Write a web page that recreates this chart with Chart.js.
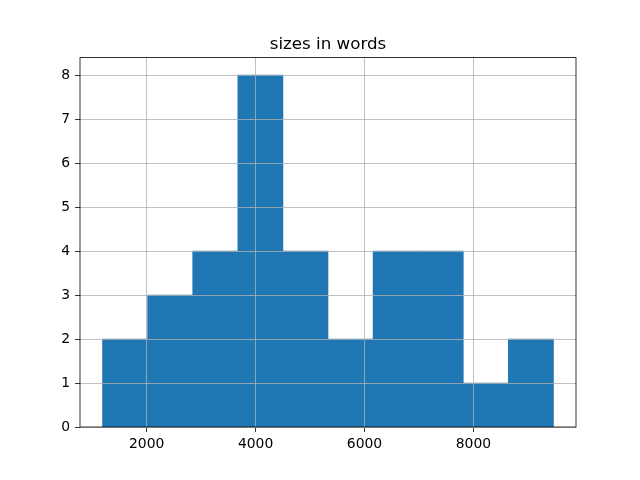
<!DOCTYPE html>
<html>
<head>
<meta charset="utf-8">
<script src="https://cdn.jsdelivr.net/npm/chart.js@4/dist/chart.umd.min.js"></script>
<style>
  html, body { margin: 0; padding: 0; background: #fff; }
  #wrap { width: 640px; height: 480px; }
</style>
</head>
<body>
<div id="wrap"><canvas id="hist" width="640" height="480"></canvas></div>
<script>
const TITLE = "sizes in words";
// histogram bin edges (words) and counts per bin
const binEdges = [1190, 2018, 2846, 3674, 4502, 5330, 6158, 6986, 7814, 8642, 9470];
const counts = [2, 3, 4, 8, 4, 2, 4, 4, 1, 2];
const xTicks = [2000, 4000, 6000, 8000];
const yTicks = [0, 1, 2, 3, 4, 5, 6, 7, 8];
const xRange = [776, 9884];
const yRange = [0, 8.4];

const points = counts.map((c, i) => ({ x: (binEdges[i] + binEdges[i + 1]) / 2, y: c }));

const FONT = "'DejaVu Sans', sans-serif";

// matplotlib-style box around the axes, title centred over the plot area
const frame = {
  id: "frame",
  afterDraw(chart) {
    const { ctx, chartArea: a } = chart;
    ctx.save();
    ctx.strokeStyle = "#000";
    ctx.lineWidth = 0.8;
    ctx.strokeRect(a.left, a.top, a.right - a.left, a.bottom - a.top);
    ctx.fillStyle = "#000";
    ctx.font = "16.7px " + FONT;
    ctx.textAlign = "center";
    ctx.textBaseline = "alphabetic";
    ctx.fillText(TITLE, (a.left + a.right) / 2, a.top - 8.3);
    ctx.restore();
  },
};

new Chart(document.getElementById("hist"), {
  type: "bar",
  data: {
    datasets: [
      {
        data: points,
        backgroundColor: "#1f77b4",
        borderWidth: 0,
        barPercentage: 1,
        categoryPercentage: 1,
      },
    ],
  },
  options: {
    responsive: false,
    animation: false,
    layout: { padding: { left: 0, right: 64, top: 57.6, bottom: 0 } },
    plugins: {
      legend: { display: false },
      tooltip: { enabled: false },
      title: { display: false },
    },
    scales: {
      x: {
        type: "linear",
        offset: false,
        min: xRange[0],
        max: xRange[1],
        afterBuildTicks: (s) => { s.ticks = xTicks.map((v) => ({ value: v })); },
        afterFit: (s) => { s.height = 53; },
        // grid drawn above the bars, as in the original
        grid: { z: 1, offset: false, color: "#b0b0b0", lineWidth: 0.8, tickColor: "#000", tickLength: 5 },
        border: { display: false },
        ticks: { color: "#000", font: { family: FONT, size: 13.9 }, padding: 4, maxRotation: 0, callback: (v) => String(v) },
      },
      y: {
        min: yRange[0],
        max: yRange[1],
        afterBuildTicks: (s) => { s.ticks = yTicks.map((v) => ({ value: v })); },
        afterFit: (s) => { s.width = 80; },
        grid: { z: 1, color: "#b0b0b0", lineWidth: 0.8, tickColor: "#000", tickLength: 5 },
        border: { display: false },
        ticks: { color: "#000", font: { family: FONT, size: 13.9 }, padding: 5, callback: (v) => String(v) },
      },
    },
  },
  plugins: [frame],
});
</script>
</body>
</html>
